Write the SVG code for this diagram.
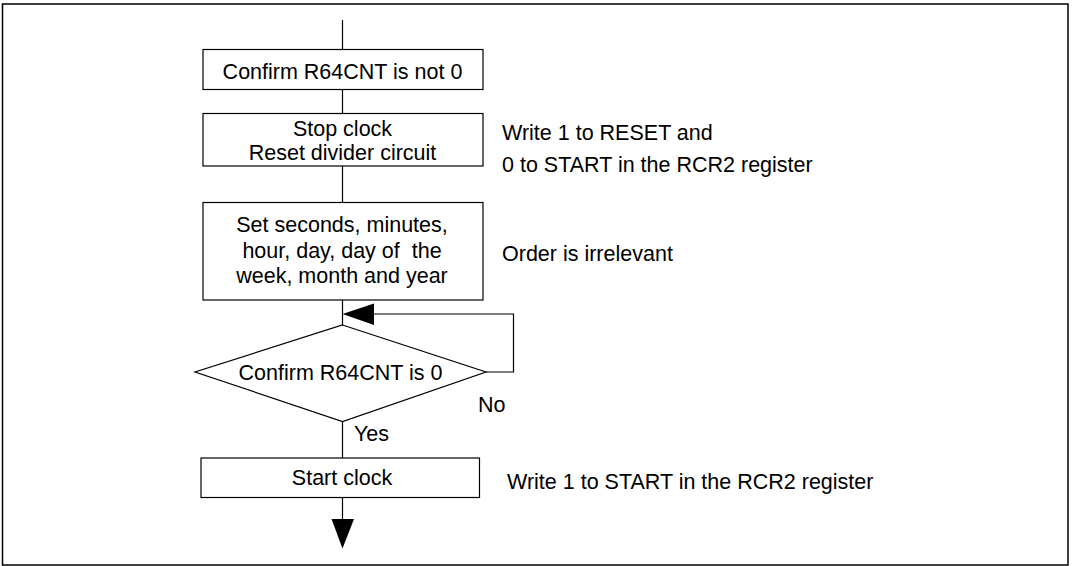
<svg xmlns="http://www.w3.org/2000/svg" width="1073" height="566" viewBox="0 0 1073 566">
<style>
.box{fill:#fff;stroke:#000;stroke-width:1.2}
.ln{fill:none;stroke:#000;stroke-width:1.2}
.ah{fill:#000;stroke:none}
text{font-family:"Liberation Sans",Arial,sans-serif;font-size:21.5px;fill:#000}
.c{text-anchor:middle}
</style>
<rect x="2.5" y="4" width="1065.5" height="561" fill="#fff" stroke="#000" stroke-width="1.5"/>
<g id="connectors">
<line class="ln" x1="342.5" y1="20" x2="342.5" y2="49.5"/>
<line class="ln" x1="342.5" y1="89.5" x2="342.5" y2="113.5"/>
<line class="ln" x1="342.5" y1="166" x2="342.5" y2="202.5"/>
<line class="ln" x1="342.5" y1="300" x2="342.5" y2="325"/>
<polyline class="ln" points="486,372 513.5,372 513.5,314 370,314"/>
<polygon class="ah" points="342.5,314 374,303.5 374,325"/>
<line class="ln" x1="342.5" y1="421.5" x2="342.5" y2="458"/>
<line class="ln" x1="342.5" y1="497.5" x2="342.5" y2="522"/>
<polygon class="ah" points="331.5,519 354,519 342.5,548.5"/>
</g>
<g id="n1">
<rect class="box" x="203" y="49.5" width="280" height="40"/>
<text class="c" x="342.5" y="79">Confirm R64CNT is not 0</text>
</g>
<g id="n2">
<rect class="box" x="203" y="113.5" width="280" height="52.5"/>
<text class="c" x="342.5" y="136">Stop clock</text>
<text class="c" x="342.5" y="159.5">Reset divider circuit</text>
<text x="502" y="140">Write 1 to RESET and</text>
<text x="502" y="172">0 to START in the RCR2 register</text>
</g>
<g id="n3">
<rect class="box" x="203" y="202.5" width="280" height="97.5"/>
<text class="c" x="342" y="232">Set seconds, minutes,</text>
<text class="c" x="342" y="257.5" xml:space="preserve">hour, day, day of  the</text>
<text class="c" x="342" y="283">week, month and year</text>
<text x="502" y="261">Order is irrelevant</text>
</g>
<g id="n4">
<polygon class="box" points="342.5,325 486,372 342.5,421.5 195,372"/>
<text class="c" x="340.5" y="380">Confirm R64CNT is 0</text>
<text x="478" y="412">No</text>
<text x="354" y="440.5">Yes</text>
</g>
<g id="n5">
<rect class="box" x="201" y="458" width="278.5" height="39.5"/>
<text class="c" x="342" y="485">Start clock</text>
<text x="507" y="489">Write 1 to START in the RCR2 register</text>
</g>
</svg>
